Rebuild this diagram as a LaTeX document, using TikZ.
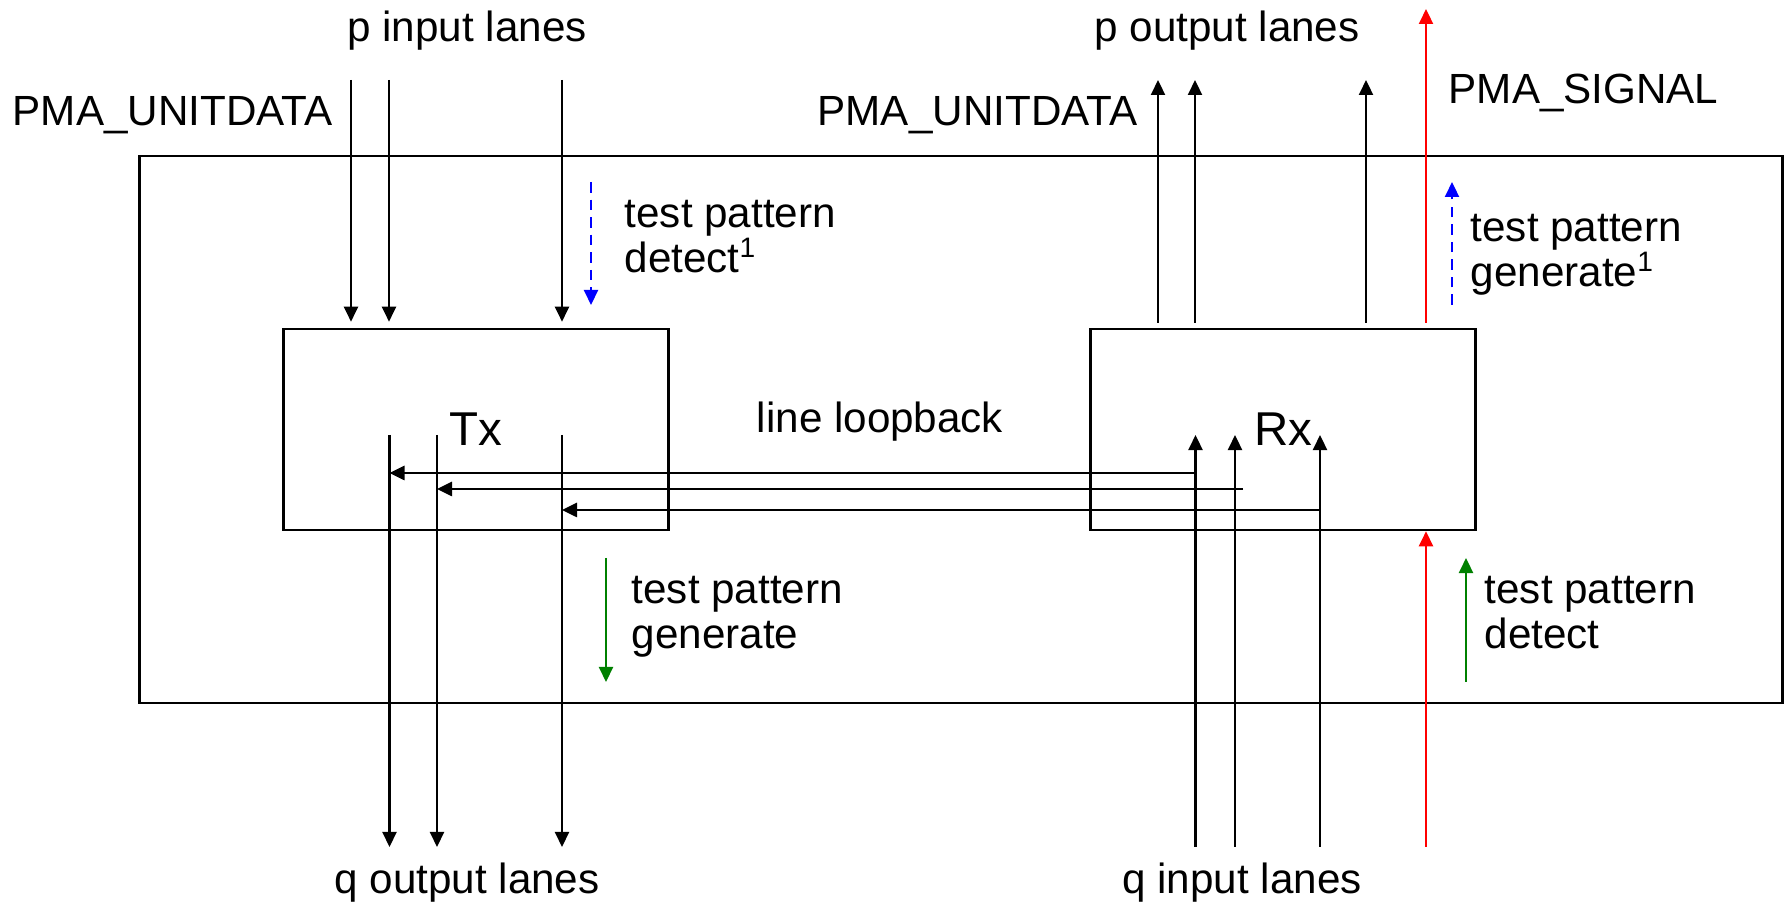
\documentclass[tikz,border=0pt]{standalone}
\usepackage{fontspec}
\setmainfont{Liberation Sans}
\usetikzlibrary{arrows.meta,positioning}

\begin{document}
\begin{tikzpicture}[
	x=0.01cm, y=-0.01cm,
	every node/.style={font=\fontsize{12pt}{13pt}\selectfont, inner sep=0pt},
	lane/.style={line width=0.6pt, -{Triangle[length=0.15cm,width=0.14cm]}},
	loopln/.style={line width=0.75pt, -{Triangle[length=0.15cm,width=0.14cm]}},
	sig/.style={lane, red},
	tpgen/.style={lane, green!50!black},
	tpdet/.style={lane, blue, dash pattern=on 3pt off 2pt},
	blk/.style={draw, line width=0.7pt, minimum width=3.845cm, minimum height=2.01cm,
		font=\fontsize{13.5pt}{15pt}\selectfont},
	lbl/.style={align=left, anchor=base west},
	]
	\useasboundingbox (0,0) rectangle (1785,904);

	% PMA unit and the two blocks
	\node[draw, line width=0.6pt, minimum width=16.42cm, minimum height=5.46cm] (unit) at (961,429.5) {};
	\node[blk] (tx) at (476,429.5) {Tx};
	\node[blk] (rx) at (1283,429.5) {Rx};
	\node[anchor=base] (loopback) at (880,433) {line loopback};

	% labels outside
	\node[anchor=base] (pin) at (467,42) {p input lanes};
	\node[anchor=base] (pout) at (1227,42) {p output lanes};
	\node[anchor=base west] (udin) at (12,126) {PMA\_UNITDATA};
	\node[anchor=base east] (udout) at (1138,126) {PMA\_UNITDATA};
	\node[anchor=base west] (signal) at (1448,104) {PMA\_SIGNAL};
	\node[anchor=base] (qout) at (467,893) {q output lanes};
	\node[anchor=base] (qin) at (1242,893) {q input lanes};

	% p lanes
	\foreach \x [count=\i] in {351,389,562}{
		\coordinate (pi\i) at (\x,80);
		\draw[lane, shorten >=0.06cm] (pi\i) -- (pi\i |- tx.north);
	}
	\foreach \x [count=\i] in {1158,1195,1366}{
		\coordinate (po\i) at (\x,80);
		\draw[lane, shorten <=0.05cm] (po\i |- rx.north) -- (po\i);
	}
	\coordinate (sigtop) at (1426,9);
	\coordinate (sigbot) at (1426,847);
	\draw[sig, shorten <=0.05cm] (sigtop |- rx.north) -- (sigtop);
	\draw[sig] (sigbot) -- (sigbot |- rx.south);

	% q lanes
	\foreach \x [count=\i] in {389.5,437,562}{
		\coordinate (to\i) at (\x,435);
		\coordinate (qo\i) at (\x,847);
		\draw[lane] (to\i) -- (qo\i);
	}
	\foreach \x [count=\i] in {1195.5,1235,1320}{
		\coordinate (ri\i) at (\x,435);
		\coordinate (qi\i) at (\x,847);
		\draw[lane] (qi\i) -- (ri\i);
	}

	% line loopback
	\draw[loopln] (ri1 |- 0,473) -- (to1 |- 0,473);
	\draw[loopln] ([xshift=0.08cm]ri2 |- 0,489) -- (to2 |- 0,489);
	\draw[loopln] (ri3 |- 0,510) -- (to3 |- 0,510);

	% test patterns (base = last line)
	\coordinate (dt1) at (591,182);
	\coordinate (dt2) at (591,305);
	\draw[tpdet] (dt1) -- (dt2);
	\node[lbl] (det1) at (624,273) {test pattern\\detect\textsuperscript{1}};
	\coordinate (gn1) at (1452,305);
	\coordinate (gn2) at (1452,182);
	\draw[tpdet] (gn1) -- (gn2);
	\node[lbl] (gen1) at (1470,287) {test pattern\\generate\textsuperscript{1}};
	\coordinate (gn3) at (606,558);
	\coordinate (gn4) at (606,682);
	\draw[tpgen] (gn3) -- (gn4);
	\node[lbl] (gen) at (631,649) {test pattern\\generate};
	\coordinate (dt3) at (1466,682);
	\coordinate (dt4) at (1466,558);
	\draw[tpgen] (dt3) -- (dt4);
	\node[lbl] (det) at (1484,649) {test pattern\\detect};
\end{tikzpicture}
\end{document}
